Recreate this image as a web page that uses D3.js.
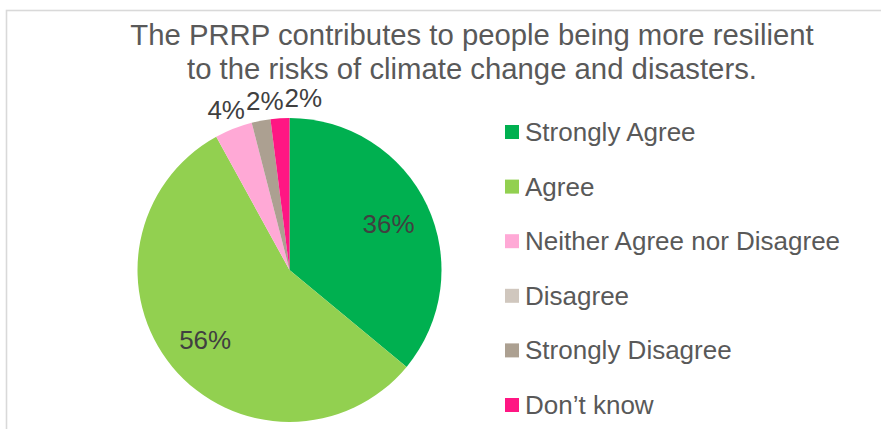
<!DOCTYPE html>
<html>
<head>
<meta charset="utf-8">
<script src="https://cdn.jsdelivr.net/npm/d3@7/dist/d3.min.js"></script>
<style>
  html, body { margin: 0; padding: 0; background: #fff; }
  svg { display: block; font-family: "Liberation Sans", Arial, sans-serif; }
</style>
</head>
<body>
<svg id="chart" width="881" height="429"></svg>
<script>
// Survey responses (percent of respondents)
const categories = ["Strongly Agree", "Agree", "Neither Agree nor Disagree", "Disagree", "Strongly Disagree", "Don\u2019t know"];
const values = [36, 56, 4, 0, 2, 2];
const colors = ["#00B050", "#92D050", "#FFA9D6", "#D0C7BE", "#ACA091", "#FF1683"];
const titleLines = ["The PRRP contributes to people being more resilient", "to the risks of climate change and disasters."];

const svg = d3.select("#chart");
const W = 881, H = 429;

// chart frame (top and left edges visible)
svg.append("rect")
  .attr("x", 6.5).attr("y", 10.5)
  .attr("width", W + 20).attr("height", H + 20)
  .attr("fill", "#fff")
  .attr("stroke", "#D9D9D9").attr("stroke-width", 1.6);

// title
svg.append("g").selectAll("text")
  .data(titleLines)
  .join("text")
  .attr("x", 472)
  .attr("y", (d, i) => 45 + i * 33.5)
  .attr("text-anchor", "middle")
  .attr("font-size", 29.3)
  .attr("fill", "#595959")
  .text(d => d);

// pie
const cx = 289.5, cy = 270, r = 152;
const data = categories.map((c, i) => ({ cat: c, value: values[i], color: colors[i] }));
const pie = d3.pie().value(d => d.value).sort(null);
const arcs = pie(data);
const arc = d3.arc().innerRadius(0).outerRadius(r);

const g = svg.append("g").attr("transform", `translate(${cx},${cy})`);
g.selectAll("path")
  .data(arcs.filter(a => a.data.value > 0))
  .join("path")
  .attr("d", arc)
  .attr("fill", d => d.data.color);

// labels: large slices inside, small slices just outside the rim
const labelFont = 26;
const visible = arcs.filter(a => a.data.value > 0);
const inner = visible.filter(a => a.data.value >= 10);
const outer = visible.filter(a => a.data.value < 10);

const innerArc = d3.arc().innerRadius(r * 0.72).outerRadius(r * 0.72);
g.selectAll("text.inner")
  .data(inner)
  .join("text")
  .attr("class", "inner")
  .attr("transform", d => `translate(${innerArc.centroid(d)})`)
  .attr("dy", "0.35em")
  .attr("text-anchor", "middle")
  .attr("font-size", labelFont)
  .attr("fill", "#404040")
  .text(d => d.data.value + "%");

const outerArc = d3.arc().innerRadius(r + 20).outerRadius(r + 20);
const outerLabels = g.selectAll("text.outer")
  .data(outer)
  .join("text")
  .attr("class", "outer")
  .attr("text-anchor", "middle")
  .attr("dy", "0.35em")
  .attr("font-size", labelFont)
  .attr("fill", "#404040")
  .text(d => d.data.value + "%");

// place outer labels and push them apart horizontally so they don't overlap
const placed = [];
outerLabels.each(function(d) {
  const [x, y] = outerArc.centroid(d);
  placed.push({ node: this, x, y, w: this.getComputedTextLength() });
});
placed.sort((a, b) => a.x - b.x);
for (let i = 1; i < placed.length; i++) {
  const prev = placed[i - 1], cur = placed[i];
  const minX = prev.x + prev.w / 2 + cur.w / 2 + 1;
  if (cur.x < minX) cur.x = minX;
}
placed.forEach(p => d3.select(p.node).attr("x", p.x).attr("y", p.y));

// legend
const legend = svg.append("g").attr("transform", "translate(505,132)");
const item = legend.selectAll("g")
  .data(data)
  .join("g")
  .attr("transform", (d, i) => `translate(0,${i * 54.6})`);
item.append("rect")
  .attr("x", 0).attr("y", -7)
  .attr("width", 14).attr("height", 14)
  .attr("fill", d => d.color);
item.append("text")
  .attr("x", 20).attr("y", 9)
  .attr("font-size", 26)
  .attr("fill", "#595959")
  .text(d => d.cat);
</script>
</body>
</html>
